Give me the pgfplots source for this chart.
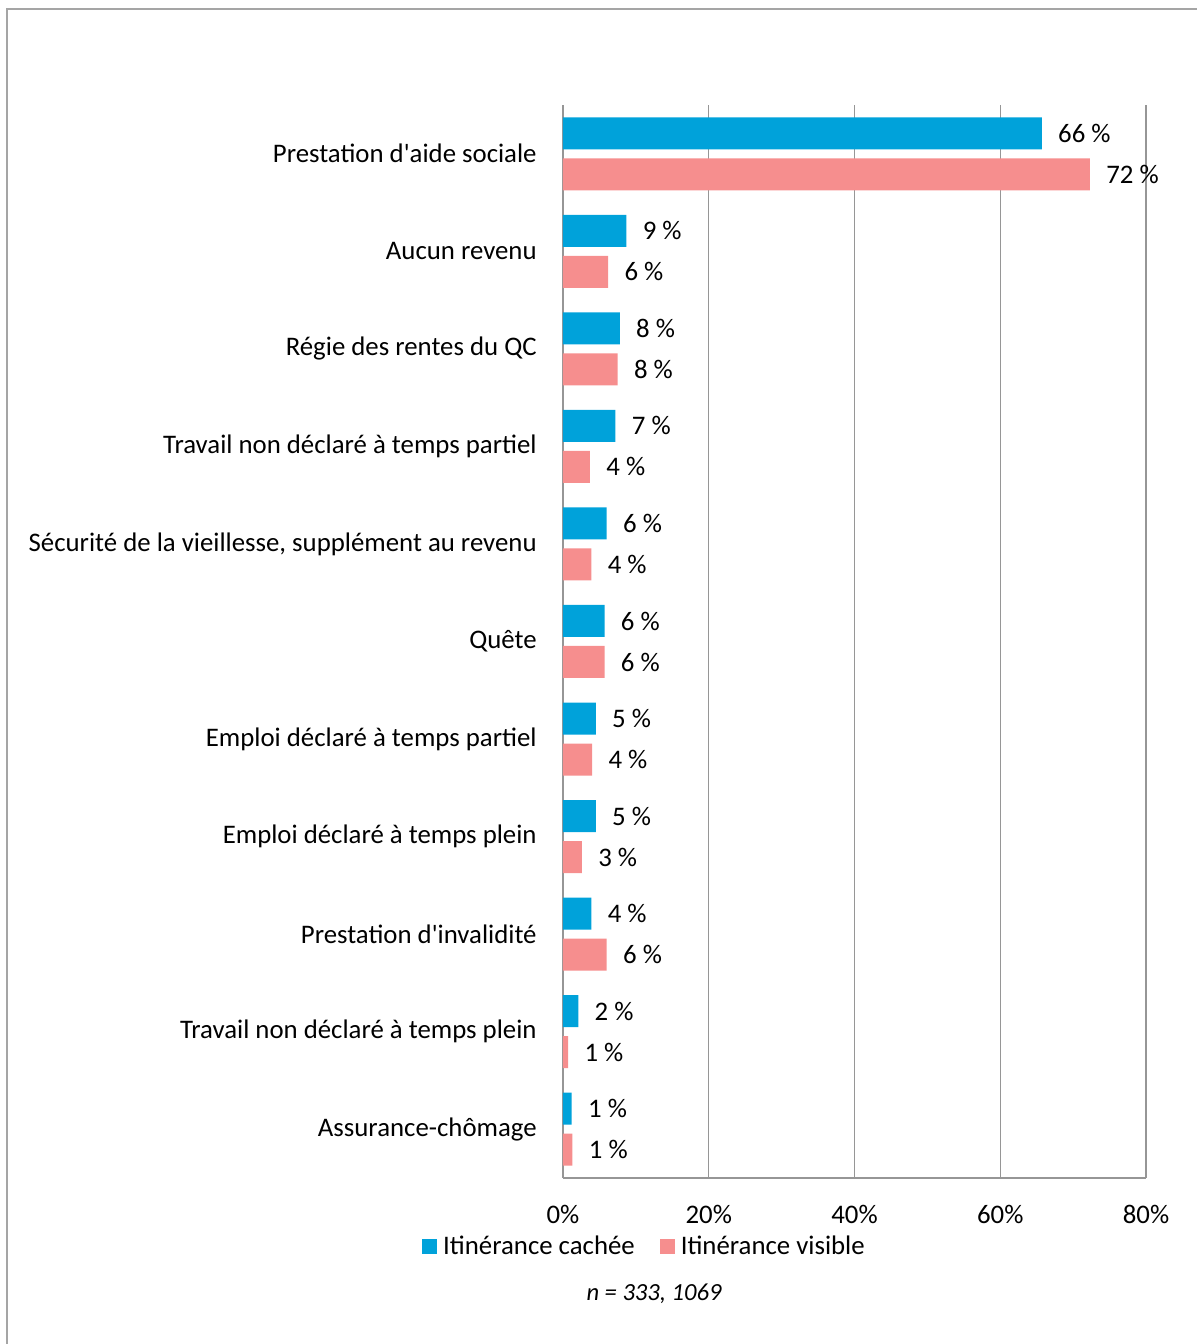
\documentclass[border=0pt]{standalone}
\usepackage{pgfplots}
\pgfplotsset{compat=1.18}
\usepackage{fontspec}
\setmainfont{Carlito}
\definecolor{cblue}{RGB}{0,162,218}
\definecolor{cpink}{RGB}{246,142,142}
\definecolor{gridc}{RGB}{150,150,150}
\begin{document}
\begin{tikzpicture}[font=\fontsize{13.4pt}{16pt}\selectfont]
\path[use as bounding box] (0,0) rectangle (598pt,672pt);
\draw[color={rgb,255:red,165;green,165;blue,165}, line width=1pt] (3.5pt,0) -- (3.5pt,667.3pt) -- (600pt,667.3pt);
\begin{axis}[
  at={(281.5pt,83pt)}, anchor=south west,
  scale only axis, width=291.5pt, height=536.5pt,
  xbar, bar width=16pt,
  xmin=0, xmax=80, ymin=-0.5, ymax=10.5,
  xtick={0,20,40,60,80},
  xticklabels={0\%,20\%,40\%,60\%,80\%},
  ytick={0,...,10},
  yticklabels={Assurance-chômage,Travail non déclaré à temps plein,Prestation d\textquotesingle invalidité,Emploi déclaré à temps plein,Emploi déclaré à temps partiel,Quête,{Sécurité de la vieillesse, supplément au revenu},Travail non déclaré à temps partiel,Régie des rentes du QC,Aucun revenu,Prestation d\textquotesingle aide sociale},
  major tick length=0pt,
  axis x line*=bottom, axis y line*=left,
  axis line style={gridc, line width=0.6pt, -},
  xmajorgrids, grid style={gridc, line width=0.6pt},
  xticklabel style={inner sep=0pt, yshift=-13.5pt, anchor=north},
  yticklabel style={inner sep=0pt, xshift=-13pt, anchor=east},
  point meta=explicit symbolic,
  nodes near coords,
  nodes near coords style={anchor=west, inner sep=0pt, xshift=8pt, text=black},
  legend style={at={(0.1432,-0.0643)}, anchor=center, draw=none, legend columns=2,
    /tikz/every even column/.append style={column sep=9.5pt},
    nodes={inner xsep=3pt, inner ysep=0pt}},
  legend image code/.code={\fill[#1] (0pt,-3.75pt) rectangle (7.5pt,3.75pt);},
  clip=false,
]
\addplot[fill=cblue, draw=none, bar shift=10.25pt] coordinates {
(65.7,10) [66 \%]
(8.7,9) [9 \%]
(7.8,8) [8 \%]
(7.2,7) [7 \%]
(6.0,6) [6 \%]
(5.7,5) [6 \%]
(4.5,4) [5 \%]
(4.5,3) [5 \%]
(3.9,2) [4 \%]
(2.1,1) [2 \%]
(1.2,0) [1 \%]
};
\addplot[fill=cpink, draw=none, bar shift=-10.25pt] coordinates {
(72.3,10) [72 \%]
(6.2,9) [6 \%]
(7.5,8) [8 \%]
(3.7,7) [4 \%]
(3.9,6) [4 \%]
(5.7,5) [6 \%]
(4.0,4) [4 \%]
(2.6,3) [3 \%]
(6.0,2) [6 \%]
(0.7,1) [1 \%]
(1.3,0) [1 \%]
};
\legend{Itinérance cachée, Itinérance visible}
\end{axis}
\node[font=\fontsize{12.3pt}{15pt}\selectfont\itshape] at (327pt,25pt) {n = 333, 1069};
\end{tikzpicture}
\end{document}
